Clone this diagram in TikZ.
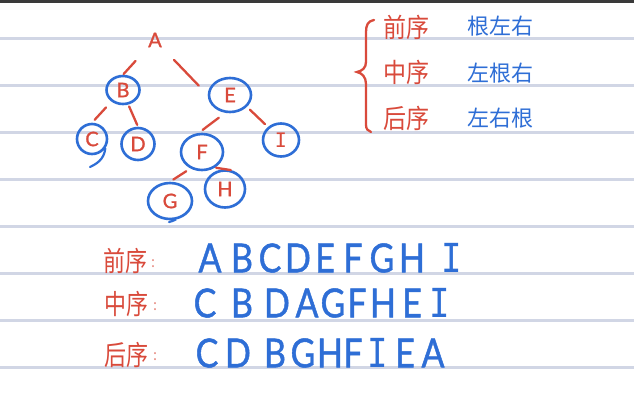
\documentclass[tikz,border=0pt]{standalone}
\usepackage{fontspec}
\usepackage{graphicx}
\setmainfont{Lato}
\newfontfamily\cjk{Noto Sans CJK SC}
\newfontfamily\monoI{DejaVu Sans Mono}
\newfontfamily\seqfont{Lato}[FakeBold=1.2]
\usetikzlibrary{shapes.geometric}
\definecolor{penred}{HTML}{D94A3B}
\definecolor{penblue}{HTML}{2E6ED6}
\definecolor{rulecol}{HTML}{D1D6E5}
\definecolor{topbar}{HTML}{3A3A3A}
\def\myIchar{I}
\newcommand\seqch[1]{\edef\mytmpch{#1}\ifx\mytmpch\myIchar{\monoI I}\else #1\fi}
\newcommand\hwsq[1]{\scalebox{0.85}[1]{\seqch{#1}}}
\tikzset{
  ruleline/.style={rulecol, line width=3pt},
  treenode/.style={ellipse, draw=penblue, line width=2.6pt, text=penred, inner sep=0pt, font=\seqfont\fontsize{20}{20}\selectfont},
  rootnode/.style={text=penred, inner sep=1pt, font=\seqfont\fontsize{20}{20}\selectfont},
  treeedge/.style={penred, line width=2.3pt, line cap=round},
  bracecol/.style={penred, line width=2.3pt, line cap=round},
  redlabel/.style={text=penred, font=\cjk\fontsize{23}{23}\selectfont, inner sep=0pt},
  bluelabel/.style={text=penblue, font=\cjk\fontsize{22}{22}\selectfont, inner sep=0pt},
  seqletter/.style={text=penblue, font=\seqfont\fontsize{40}{40}\selectfont, inner sep=0pt},
  seqlabel/.style={text=penred, font=\cjk\fontsize{22}{22}\selectfont, inner sep=0pt},
  colonlabel/.style={text=penred!60, font=\fontsize{16}{16}\selectfont, inner sep=0pt},
}
\begin{document}
\begin{tikzpicture}[x=1pt,y=-1pt]
\useasboundingbox (0,0) rectangle (634,405);
\fill[white] (0,0) rectangle (634,405);
\fill[topbar] (0,0) rectangle (634,3);
\foreach \yy in {38,85,132,179,226,273,320,367} \draw[ruleline] (0,\yy) -- (634,\yy);

% tree
\node[rootnode] (A) at (155,40) {A};
\node[treenode, minimum width=33pt, minimum height=28pt] (B) at (123,90) {B};
\node[treenode, minimum width=42pt, minimum height=34pt] (E) at (230,95) {E};
\node[treenode, minimum width=30pt, minimum height=30pt] (C) at (92,139) {C};
\node[treenode, minimum width=33pt, minimum height=32pt] (D) at (138,144) {D};
\node[treenode, minimum width=42pt, minimum height=36pt] (F) at (202,152) {F};
\node[treenode, minimum width=36pt, minimum height=33pt] (I) at (281,140) {{\monoI I}};
\node[treenode, minimum width=44pt, minimum height=36pt] (G) at (170,201) {G};
\node[treenode, minimum width=40pt, minimum height=37pt] (H) at (225,189) {H};

\draw[treeedge, shorten <=17pt, shorten >=1pt] (A.south west) -- (B.north);
\draw[treeedge, shorten <=16pt, shorten >=13pt] (A.south east) -- (E.west);
\draw[treeedge, shorten <=8pt, shorten >=4pt] (B.225) -- (C.north);
\draw[treeedge, shorten <=2pt, shorten >=2pt] (B.-70) -- (D.north);
\draw[treeedge, shorten <=8pt, shorten >=5pt] (E.255) -- (F.100);
\draw[treeedge, shorten <=4pt, shorten >=4pt] (E.-35) -- (I.135);
\draw[treeedge, shorten <=5pt, shorten >=4pt] (F.235) -- (G.north);
\draw[treeedge, shorten <=1pt, shorten >=1pt] (F.-50) -- (H.70);

% pen tails on C and G
\draw[penblue, line width=2.2pt, line cap=round] (C.-35) .. controls (104,160) and (96,164) .. (90,167);
\draw[penblue, line width=2.2pt, line cap=round] (G.-75) .. controls (178,218) and (174,221) .. (169,222);

% legend
\draw[bracecol] (374,20) .. controls (368,21) and (366,25) .. (366,32) -- (366,62)
  .. controls (366,68) and (362,71) .. (357,72)
  .. controls (362,73) and (366,77) .. (366,84) -- (366,125)
  .. controls (366,129) and (368,131) .. (371,132);
\node[redlabel] (pre) at (406,27) {\scalebox{1}[1.15]{前序}};
\node[redlabel] (mid) at (406,72) {\scalebox{1}[1.15]{中序}};
\node[redlabel] (post) at (406,118) {\scalebox{1}[1.15]{后序}};
\node[bluelabel] (preR) at (500,26) {根左右};
\node[bluelabel] (midR) at (500,73) {左根右};
\node[bluelabel] (postR) at (500,118) {左右根};

% sequences
\node[seqlabel] (preL) at (125,261) {\scalebox{1}[1.25]{前序}};
\node[seqlabel] (midL) at (126,304) {\scalebox{1}[1.25]{中序}};
\node[seqlabel] (postL) at (126,355) {\scalebox{1}[1.25]{后序}};
\node[colonlabel] (preC) at (153,264) {:};
\node[colonlabel] (midC) at (155,307) {:};
\node[colonlabel] (postC) at (155,357) {:};

\foreach \ch/\xx [count=\i] in {A/210,B/242,C/270,D/298,E/325,F/353,G/382,H/412,I/452}
  \node[seqletter] (pre\i) at (\xx,258) {\hwsq{\ch}};
\foreach \ch/\xx [count=\i] in {C/205,B/242,D/277,A/307,G/333,F/357,H/383,E/412,I/440}
  \node[seqletter] (in\i) at (\xx,303) {\hwsq{\ch}};
\foreach \ch/\xx [count=\i] in {C/207,D/238,B/275,G/303,H/330,F/353,I/378,E/405,A/433}
  \node[seqletter] (post\i) at (\xx,353) {\hwsq{\ch}};
\end{tikzpicture}
\end{document}
